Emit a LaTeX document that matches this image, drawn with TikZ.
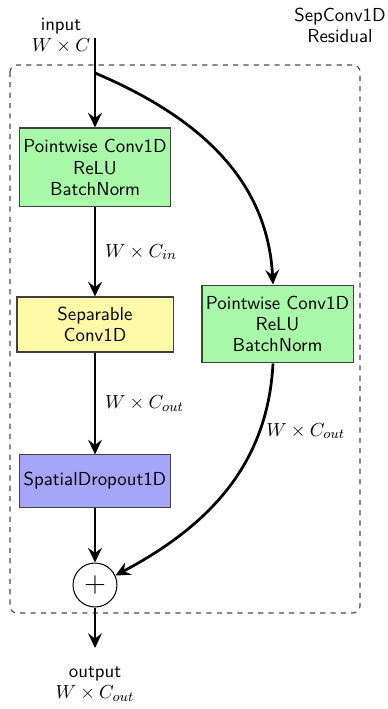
\documentclass[tikz,border=0pt]{standalone}
\usetikzlibrary{arrows.meta}
\renewcommand{\familydefault}{\sfdefault}
\begin{document}
\begin{tikzpicture}[x=0.58pt,y=-0.58pt,
  every node/.style={font=\fontsize{10.9}{12.2}\selectfont},
  blk/.style={draw=black!75, line width=0.6pt, align=center, inner sep=0pt},
  flow/.style={-{Stealth[length=8.5pt,width=8pt,inset=3pt]}, line width=1.6pt},
  lbl/.style={align=center, inner sep=0pt},
  dim/.style={inner sep=0pt, anchor=west}]
\useasboundingbox (0,0) rectangle (387,709);
% dashed frame
\draw[dashed, black!70, line width=0.7pt, rounded corners=4pt] (10,65) rectangle (360,613);
\node[lbl] (title) at (340,25) {SepConv1D\\Residual};
% nodes
\node[lbl] (inp) at (61,36) {input\\$W\times C$};
\coordinate (top) at (95,38);
\coordinate (split) at (95,73);
\node[blk, fill={rgb,255:red,168;green,250;blue,168}, minimum width=88pt, minimum height=45.8pt] (pw1) at (95,167.5) {Pointwise Conv1D\\ReLU\\BatchNorm};
\node[blk, fill={rgb,255:red,255;green,250;blue,168}, minimum width=90.5pt, minimum height=31.9pt] (sep) at (95,324.5) {Separable\\Conv1D};
\node[blk, fill={rgb,255:red,165;green,165;blue,250}, minimum width=87.6pt, minimum height=30.2pt] (drop) at (95,481) {SpatialDropout1D};
\node[draw=black, line width=0.6pt, circle, minimum size=25.5pt, inner sep=0pt, font=\fontsize{17}{17}\selectfont] (add) at (95,585) {$+$};
\node[blk, fill={rgb,255:red,168;green,250;blue,168}, minimum width=87.6pt, minimum height=45.2pt] (pw2) at (277.5,324) {Pointwise Conv1D\\ReLU\\BatchNorm};
\coordinate (end) at (95,648);
\node[lbl] (out) at (95,684) {output\\$W\times C_{out}$};
% connectors
\draw[flow] (top) -- (pw1.north);
\draw[flow] (split) to[out=-23, in=93] (pw2.north -| 273,0);
\draw[flow] (pw1) -- (sep) node[midway, dim, xshift=5pt] {$W\times C_{in}$};
\draw[flow] (sep) -- (drop) node[midway, dim, xshift=5pt] {$W\times C_{out}$};
\draw[flow] (drop) -- (add);
\draw[flow] (pw2.south -| 273,0) to[out=-93, in=28] (add.25);
\draw[flow] (add) -- (end);
\node[dim] (d3) at (266,431) {$W\times C_{out}$};
\end{tikzpicture}
\end{document}
